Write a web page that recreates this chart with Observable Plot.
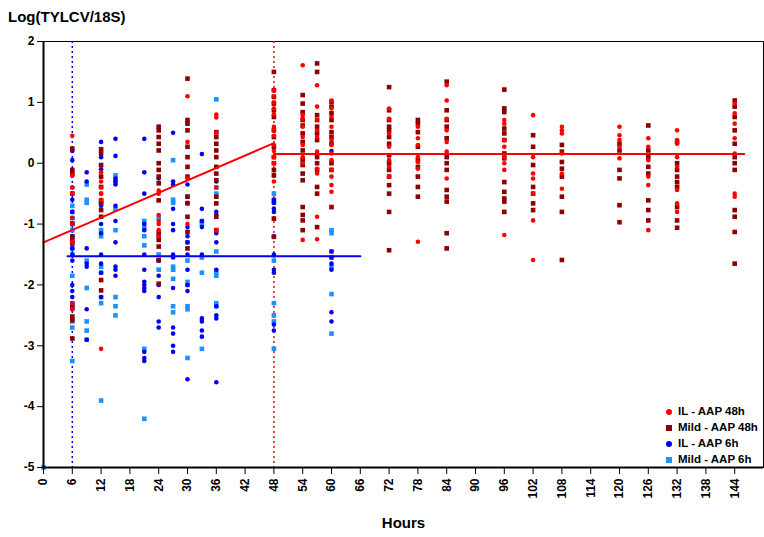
<!DOCTYPE html>
<html><head><meta charset="utf-8">
<script src="https://cdn.jsdelivr.net/npm/d3@7"></script>
<script src="https://cdn.jsdelivr.net/npm/@observablehq/plot@0.6"></script>
<style>
body{margin:0;background:#fff;font-family:Arial,"Liberation Sans",sans-serif}
#wrap{position:relative;width:764px;height:537px}
#title{position:absolute;left:8px;top:8px;font-weight:bold;font-size:15px}
#legend{position:absolute;left:666px;top:403px;font-weight:bold;font-size:11.5px;line-height:16px}
#legend span.m{display:inline-block;width:6px;height:6px;margin-right:6px;vertical-align:middle}
</style></head><body>
<div id="wrap"><div id="title">Log(TYLCV/18S)</div><div id="chart"></div><div id="legend"></div></div>
<script>
// [hour, values]
const il6 = [
 [6,[0.2,0.05,-0.2,-0.4,-0.6,-0.8,-0.9,-1.0,-1.2,-1.3,-1.4,-1.5,-1.6,-2.0,-2.1,-2.2,-2.3,-2.4]],
 [9,[-0.15,-0.3,-1.4,-1.65,-1.7,-2.4,-2.9]],
 [12,[0.35,0.1,-0.1,-0.5,-0.7,-1.0,-1.15,-1.5,-1.65,-1.8,-2.2]],
 [15,[0.4,0.12,-0.25,-0.3,-0.35,-0.7,-0.95,-1.3,-1.7,-1.75,-1.85]],
 [21,[0.4,-0.15,-0.5,-1.0,-1.1,-1.5,-1.75,-1.95,-2.0,-2.05,-2.1,-3.1,-3.2,-3.25]],
 [24,[-0.25,-1.2,-1.6,-1.85,-2.0,-2.2,-2.6,-2.7]],
 [27,[0.5,-0.3,-0.35,-0.75,-1.0,-1.1,-1.5,-1.55,-2.05,-2.7,-2.8,-3.0,-3.1]],
 [30,[-0.35,-0.65,-1.05,-1.2,-1.3,-1.5,-1.75,-2.0,-2.1,-3.55]],
 [33,[0.15,-0.75,-0.95,-1.05,-1.5,-2.55,-2.6,-2.75,-2.85]],
 [36,[-0.3,-0.8,-0.85,-1.15,-1.3,-1.75,-2.35,-2.5,-2.55,-3.6]],
 [48,[-0.6,-0.65,-0.75,-0.8,-1.2,-1.5,-1.75,-1.8,-2.65,-2.75]],
 [60,[0.2,-1.45,-1.55,-1.65,-1.75,-2.45,-2.6]]
];
const mild6 = [
 [0,[-5]],
 [6,[-0.7,-0.8,-0.9,-1.0,-1.1,-1.2,-1.4,-1.5,-1.85,-2.3,-2.35,-2.6,-2.7,-3.25]],
 [9,[-0.35,-0.6,-0.65,-1.6,-2.05,-2.6,-2.75,-2.9]],
 [12,[-0.65,-1.1,-1.2,-1.7,-1.8,-2.2,-2.3,-3.9]],
 [15,[-0.2,-0.3,-0.75,-1.1,-2.2,-2.35,-2.5]],
 [21,[-0.95,-1.05,-1.2,-1.35,-3.05,-4.2]],
 [24,[-0.9,-1.5,-1.6,-1.75]],
 [27,[0.05,-0.6,-0.65,-1.7,-1.75,-1.9,-2.35,-2.45]],
 [30,[-0.55,-1.3,-1.6,-1.95,-2.0,-2.35,-2.4,-3.2]],
 [33,[-0.95,-1.0,-1.55,-1.8,-3.05]],
 [36,[1.05,-0.4,-0.5,-1.45,-1.8,-1.85,-2.3,-2.35]],
 [48,[-0.5,-0.6,-0.65,-1.6,-2.3,-2.5,-2.6,-3.05]],
 [60,[-1.1,-1.15,-1.45,-1.55,-1.7,-2.15,-2.8]]
];
const il48 = [
 [6,[0.45,-0.2,-0.4,-0.5,-0.9,-1.0,-1.3,-2.3,-2.4]],
 [12,[-0.15,-0.3,-0.4,-0.5,-0.6,-3.05]],
 [24,[-0.45,-0.5,-0.85,-0.95,-1.0,-1.1,-1.2]],
 [30,[1.1,0.35,-0.25,-1.0]],
 [36,[0.8,0.75,0.5,-0.4,-1.1]],
 [48,[1.2,1.1,1.0,0.9,0.8,0.6,0.55,0.45,0.3,0.2,0.1,0.0,-0.3]],
 [54,[1.61,0.79,0.73,0.6,0.43,0.3,0.1,0.0,-1.26]],
 [57,[1.28,0.93,0.71,0.54,0.43,0.19,-0.09,-0.17,-0.88,-1.25]],
 [60,[1.03,0.9,0.76,0.6,0.38,0.3,0.16,0.05,-0.11,-0.22,-0.36,-0.47]],
 [72,[0.9,0.73,0.49,0.27,0.05,-0.06,-0.22]],
 [78,[0.6,0.41,0.3,0.1,0.02,-0.09,-1.29]],
 [84,[1.28,1.03,0.73,0.54,0.35,0.19,-0.25]],
 [96,[0.71,0.65,0.38,0.27,0.1,0.0,-0.11,-1.18]],
 [102,[0.79,0.1,-0.17,-0.25,-0.5,-0.94,-1.59]],
 [108,[0.6,0.54,0.49,0.16,-0.17,-0.42]],
 [120,[0.6,0.46,0.38,0.27,0.08]],
 [126,[0.41,0.27,0.05,-0.22,-0.36,-1.1]],
 [132,[0.54,0.38,0.32,0.1,-0.06,-0.44,-0.66,-0.8]],
 [144,[0.98,0.82,0.65,0.41,0.16,-0.5,-0.55]]
];
const mild48 = [
 [6,[0.24,-0.11,-0.17,-0.5,-0.99,-1.21,-1.26,-1.32,-2.36,-2.52,-2.58,-2.88]],
 [12,[0.23,0.16,-0.03,-0.22,-0.39,-0.61,-0.66,-0.77,-0.88,-1.92,-2.09]],
 [24,[0.6,0.54,0.43,0.32,0.21,0.0,-0.11,-0.22,-0.33,-0.61,-1.15,-1.26,-1.37,-1.59,-1.98]],
 [30,[1.39,0.71,0.65,0.54,0.27,0.1,-0.06,-0.22,-0.55,-0.66,-0.88,-1.13,-1.4]],
 [36,[0.51,0.43,0.32,0.21,0.1,-0.06,-0.17,-0.28,-0.55,-0.66,-0.88,-1.1]],
 [48,[1.5,1.2,1.09,0.98,0.87,0.76,0.54,0.43,0.27,0.1,0.0,-0.11,-0.2,-0.91,-1.21]],
 [54,[1.12,0.98,0.84,0.71,0.62,0.49,0.35,0.21,0.05,-0.03,-0.17,-0.28,-0.72,-0.85,-0.94,-1.1]],
 [57,[1.64,1.5,0.79,0.71,0.6,0.49,0.38,0.1,0.0,-0.11,-0.39,-0.5,-1.05]],
 [60,[1.01,0.93,0.82,0.71,0.51,0.43,0.32,0.0,-0.11,-0.72]],
 [72,[1.25,0.87,0.71,0.6,0.54,0.43,0.32,0.13,0.0,-0.11,-0.22,-0.36,-0.5,-0.8,-1.43]],
 [78,[0.71,0.65,0.51,0.27,0.05,-0.06,-0.22,-0.39,-0.55]],
 [84,[1.34,0.87,0.71,0.6,0.41,0.1,0.0,-0.11,-0.44,-0.55,-0.63,-1.15,-1.4]],
 [96,[1.21,0.9,0.84,0.57,0.49,0.38,0.16,0.08,-0.31,-0.47,-0.58,-0.63,-0.8]],
 [102,[0.46,0.27,-0.03,-0.39,-0.5,-0.66,-0.77]],
 [108,[0.3,0.19,0.02,-0.09,-0.22,-0.55,-0.8,-1.59]],
 [120,[0.32,0.21,-0.11,-0.25,-0.69,-0.97]],
 [126,[0.62,0.21,0.1,-0.06,-0.17,-0.61,-0.77,-0.94]],
 [132,[0.35,0.0,-0.11,-0.22,-0.31,-0.39,-0.72,-0.94,-1.06]],
 [144,[1.03,0.93,0.76,0.54,0.32,0.1,0.0,-0.11,-0.77,-0.88,-1.13,-1.65]]
];
const fit48Rise = [[0,-1.3],[48,0.33]];
const fit48Flat = [[48,0.15],[146,0.15]];
const fit6Flat = [[5,-1.53],[66,-1.53]];
const xTicks = d3.range(0,145,6);
const yTicks = d3.range(-5,3,1);
const series = [
 {name:"IL - AAP 48h", color:"#ff0000", symbol:"circle"},
 {name:"Mild - AAP 48h", color:"#8b0000", symbol:"square"},
 {name:"IL - AAP 6h", color:"#0000ee", symbol:"circle"},
 {name:"Mild - AAP 6h", color:"#1e90ff", symbol:"square"}
];

const flat = (arr) => arr.flatMap(([h, vs]) => vs.map(v => ({x:h, y:v})));
const pts = (arr, s) => Plot.dot(flat(arr), {x:"x", y:"y", fill:s.color, symbol:s.symbol,
  r: s.symbol==="square" ? 2.6 : 2.3, stroke:"none"});

const chart = Plot.plot({
  width:764, height:537,
  marginLeft:43, marginTop:41, marginRight:1, marginBottom:70,
  x:{domain:[0,150]},
  y:{domain:[-5,2]},
  style:{fontFamily:"Arial, 'Liberation Sans', sans-serif", fontSize:"11px", fontWeight:"bold"},
  marks:[
    Plot.frame({stroke:"#000", strokeWidth:1}),
    Plot.ruleX([6], {stroke:"#0000ee", strokeDasharray:"2,3", strokeWidth:1.5}),
    Plot.ruleX([48], {stroke:"#ff0000", strokeDasharray:"2,3", strokeWidth:1.5}),
    pts(mild6, series[3]),
    pts(il6, series[2]),
    pts(mild48, series[1]),
    pts(il48, series[0]),
    Plot.line(fit48Rise, {x:d=>d[0], y:d=>d[1], stroke:"#ff0000", strokeWidth:2}),
    Plot.line(fit48Flat, {x:d=>d[0], y:d=>d[1], stroke:"#ff0000", strokeWidth:2}),
    Plot.line(fit6Flat, {x:d=>d[0], y:d=>d[1], stroke:"#0000ee", strokeWidth:2}),
    Plot.ruleX([0], {stroke:"#000", strokeWidth:2}),
    Plot.ruleY([-5], {stroke:"#000", strokeWidth:2}),
    Plot.axisX({ticks:xTicks, tickFormat:d=>String(d), tickRotate:-90, tickSize:7, tickPadding:4, fontSize:12, fontWeight:"bold", label:"Hours", labelAnchor:"center", labelArrow:"none", labelOffset:60}),
    Plot.axisY({ticks:yTicks, tickFormat:d=>String(d), tickSize:6, fontSize:12, fontWeight:"bold", label:null})
  ]
});
d3.select("#chart").append(() => chart);
d3.select(chart).selectAll("[aria-label='x-axis label'] text").style("font-size","15px");

const lg = d3.select("#legend");
series.forEach(s => {
  const row = lg.append("div");
  row.append("span").attr("class","m").style("background", s.color)
    .style("border-radius", s.symbol==="circle" ? "50%" : "0");
  row.append("span").text(s.name);
});
</script>
</body></html>
